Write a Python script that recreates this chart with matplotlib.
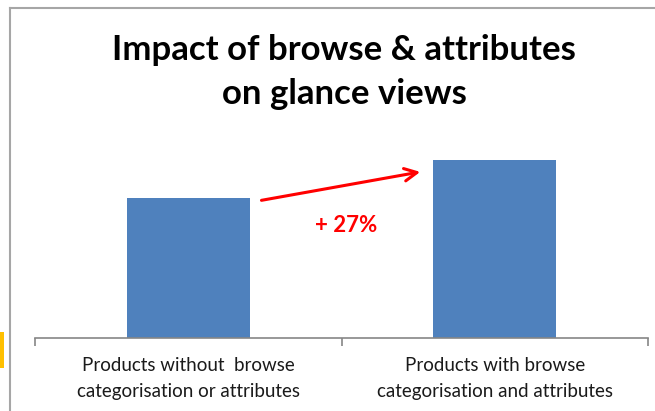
import matplotlib.pyplot as plt
from matplotlib.patches import Rectangle
from matplotlib.lines import Line2D

categories = ['Products without  browse\ncategorisation or attributes',
              'Products with browse\ncategorisation and attributes']
glance_views = [100, 127]
title = 'Impact of browse & attributes\non glance views'

BAR_COLOR = '#4F81BD'
plt.rcParams['font.family'] = ['Lato', 'DejaVu Sans']

W, H = 655, 411
fig = plt.figure(figsize=(W / 100, H / 100), dpi=100)
ax = fig.add_axes([35 / W, 73 / H, 613 / W, 188 / H])

x = list(range(len(categories)))
width = 0.4
ax.bar(x, glance_views, width=width, color=BAR_COLOR, zorder=2)
ax.set_xlim(-0.5, len(categories) - 0.5)
ax.set_ylim(0, 134.3)

for s in ['top', 'right', 'left']:
    ax.spines[s].set_visible(False)
ax.spines['bottom'].set_color('#868686')
ax.spines['bottom'].set_linewidth(1.2)
ax.set_yticks([])
ax.set_xticks(x)
ax.set_xticklabels(categories, fontsize=13.5, color='#1a1a1a', linespacing=1.6)
ax.tick_params(axis='x', length=0, pad=14)
ax.set_xticks([i - 0.5 for i in range(len(categories) + 1)], minor=True)
ax.tick_params(axis='x', which='minor', length=6, width=1.2, color='#868686')

# arrow + change label
pct = round((glance_views[1] / glance_views[0] - 1) * 100)
ax.annotate('', xy=(1 - width / 2 - 0.034, glance_views[1] - 8),
            xytext=(width / 2 + 0.03, glance_views[0] - 2),
            arrowprops=dict(arrowstyle='->,head_length=0.9,head_width=0.45',
                            color='#FF0000', lw=2.2))
ax.text(0.515, glance_views[0] * 0.807, f'+ {pct}%', color='#FF0000',
        fontsize=16, fontweight='bold', ha='center', va='center')

fig.text(344 / W, 1 - 72 / H, title, ha='center', va='center',
         fontsize=25, fontweight='bold', linespacing=1.45)

# chart frame and the orange marker at the left edge
fig.add_artist(Line2D([10 / W, 10 / W], [0, 1 - 8 / H], transform=fig.transFigure,
                      color='#A6A6A6', lw=1.5))
fig.add_artist(Line2D([10 / W, 1], [1 - 8 / H, 1 - 8 / H], transform=fig.transFigure,
                      color='#A6A6A6', lw=1.5))
fig.add_artist(Rectangle((0, 1 - 368 / H), 4 / W, 36 / H, transform=fig.transFigure,
                         color='#FFC000', lw=0))

fig.savefig('out.png', dpi=100)
